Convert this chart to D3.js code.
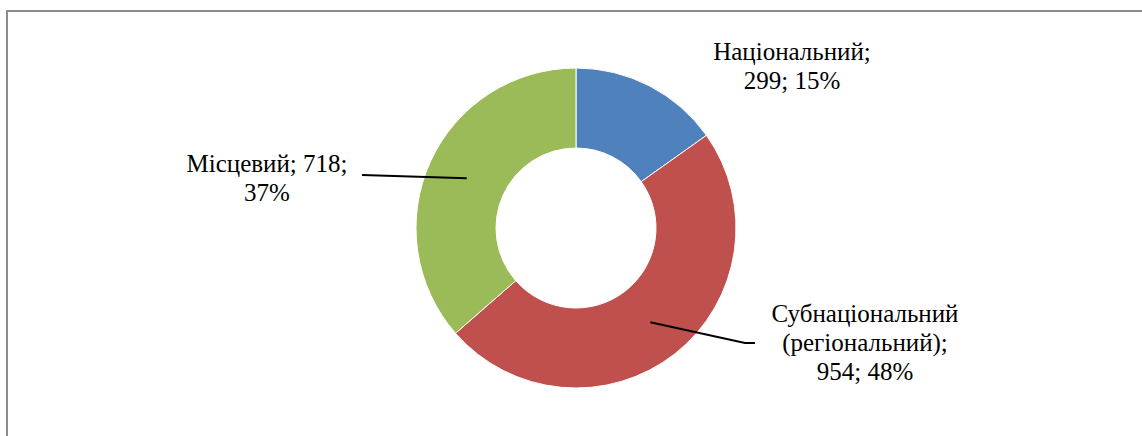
<!DOCTYPE html>
<html><head><meta charset="utf-8">
<script src="https://cdn.jsdelivr.net/npm/d3@7"></script>
<style>html,body{margin:0;padding:0;background:#fff;}svg{display:block;}
.lbl{font-family:"Liberation Serif","Times New Roman",Tinos,serif;font-size:25px;fill:#000;}</style>
</head><body>
<svg id="chart" width="1142" height="436"></svg>
<script>
const categories = ["Національний", "Субнаціональний (регіональний)", "Місцевий"];
const values = [299, 954, 718];
const percents = ["15%", "48%", "37%"];
const colors = ["#4f81bd", "#c0504d", "#9bbb59"];
const labelLines = [
  ["Національний;", "299; 15%"],
  ["Субнаціональний", "(регіональний);", "954; 48%"],
  ["Місцевий; 718;", "37%"]
];

const svg = d3.select("#chart");
const W = 1142, H = 436;
svg.append("rect").attr("x",0).attr("y",0).attr("width",W).attr("height",H).attr("fill","#fff");
svg.append("path").attr("d","M7,437 L7,11 L1143,11").attr("fill","none").attr("stroke","#8c8c8c").attr("stroke-width",2);

const cx = 576, cy = 228, rOuter = 160, rInner = 80;
const g = svg.append("g").attr("transform",`translate(${cx},${cy})`);
const pie = d3.pie().sort(null).value(d=>d)(values);
const arc = d3.arc().innerRadius(rInner).outerRadius(rOuter);
g.selectAll("path.slice").data(pie).enter().append("path")
  .attr("class","slice").attr("d",arc).attr("fill",(d,i)=>colors[i])
  .attr("stroke","#fff").attr("stroke-width",1);

const labelPos = [
  {x: 216, y: -168},
  {x: 289, y: 94},
  {x: -309, y: -56}
];
const leaderEnd = [
  null,
  [[169, 115],[179, 115]],
  [[-214, -53]]
];
const lineH = 29;
pie.forEach((d,i)=>{
  const lp = labelPos[i];
  const t = g.append("text").attr("class","lbl").attr("text-anchor","middle");
  labelLines[i].forEach((s,k)=>{
    t.append("tspan").attr("x",lp.x).attr("y",lp.y + k*lineH).text(s);
  });
  if (leaderEnd[i]) {
    const c = arc.centroid(d);
    const pts = [c].concat(leaderEnd[i]);
    g.append("path").attr("d", d3.line()(pts)).attr("fill","none")
      .attr("stroke","#000").attr("stroke-width",2);
  }
});
</script>
</body></html>
